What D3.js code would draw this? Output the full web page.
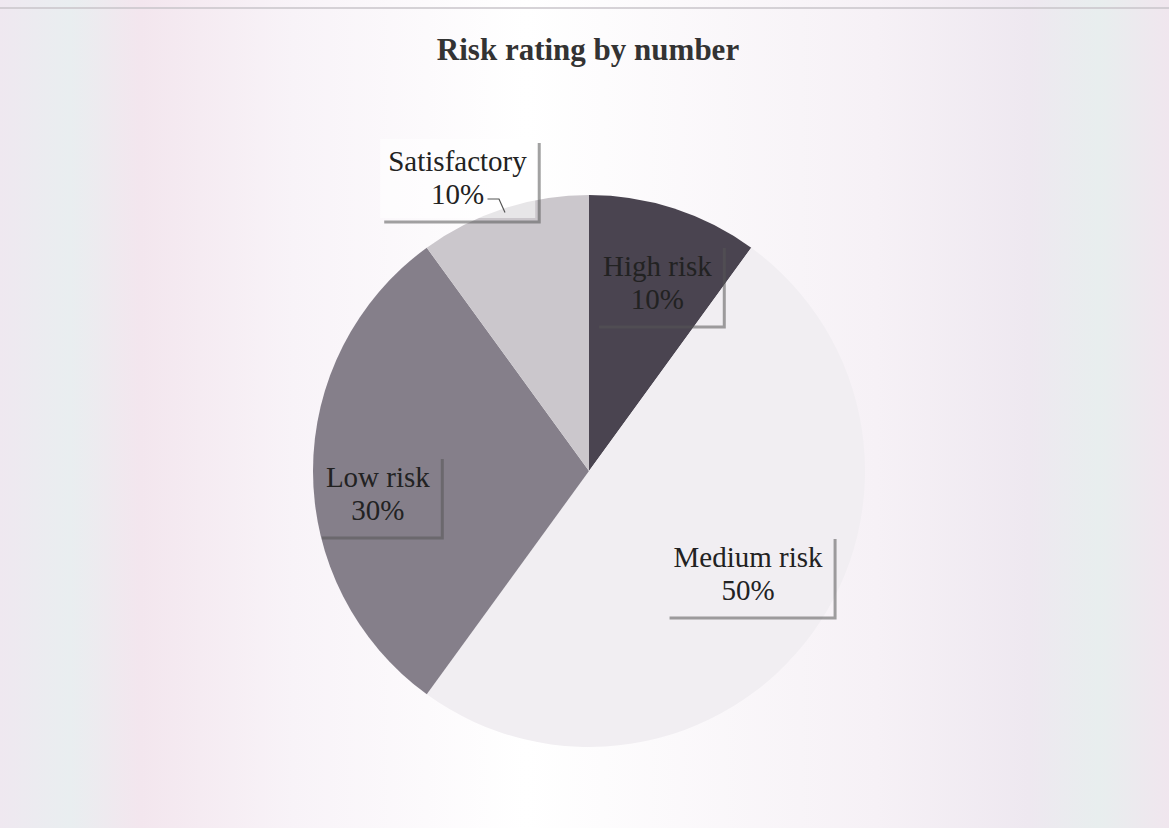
<!DOCTYPE html>
<html><head><meta charset="utf-8">
<script src="https://cdn.jsdelivr.net/npm/d3@7"></script>
<style>body{margin:0;background:#fff}svg{display:block}</style>
</head><body>
<svg id="c" width="1169" height="828"></svg>
<script>
const categories = ["High risk","Medium risk","Low risk","Satisfactory"];
const values = [10,50,30,10];
const colors = ["#4a4450","#f1eef2","#857f8a","#cbc7cc"];

const W = 1169, H = 828;
const svg = d3.select("#c");
const defs = svg.append("defs");
const g0 = defs.append("linearGradient").attr("id","bg").attr("x1","0").attr("x2","1");
[["0","#efe8f0"],["0.06","#e9eef0"],["0.12","#f3e6ee"],["0.25","#f8f3f8"],["0.45","#ffffff"],["0.75","#f6f1f6"],["0.88","#eee8f0"],["0.94","#e8eeee"],["1","#f0e6ee"]].forEach(s=>g0.append("stop").attr("offset",s[0]).attr("stop-color",s[1]));
svg.append("rect").attr("width",W).attr("height",H).attr("fill","url(#bg)");
svg.append("line").attr("x1",0).attr("x2",W).attr("y1",8).attr("y2",8).attr("stroke","#c8c4ca").attr("stroke-width",1.5);

svg.append("text").attr("x",588).attr("y",60).attr("text-anchor","middle")
  .attr("font-family","Liberation Serif").attr("font-weight","bold").attr("font-size",31)
  .attr("fill","#333").text("Risk rating by number");

const cx = 589, cy = 471, R = 276;
const pie = d3.pie().sort(null).value(d=>d)(values);
const arc = d3.arc().innerRadius(0).outerRadius(R);
const g = svg.append("g").attr("transform",`translate(${cx},${cy})`);
g.selectAll("path").data(pie).join("path").attr("d",arc).attr("fill",(d,i)=>colors[i]);

// label placement
const lr = [0.72,0.69,0.765,1.12];
const adj = [[7,0],[5,-10],[0,22],[-36,0]];
const boxes = pie.map((d,i)=>{
  const a = (d.startAngle+d.endAngle)/2;
  const r = R*lr[i];
  const x = r*Math.sin(a)+adj[i][0], y = -r*Math.cos(a)+adj[i][1];
  return {x,y,i,a};
});
boxes.forEach(b=>{
  const lg = g.append("g").attr("transform",`translate(${b.x},${b.y})`);
  const t1 = categories[b.i], t2 = values[b.i]+"%";
  const txt = lg.append("text").attr("text-anchor","middle").attr("font-family","Liberation Serif")
    .attr("font-size",29).attr("fill","#222");
  txt.append("tspan").attr("x",0).attr("y",-6).text(t1);
  txt.append("tspan").attr("x",0).attr("y",27).text(t2);
  const bb = txt.node().getBBox();
  const pad = 8;
  const bx = bb.x-pad, by = bb.y-pad+2, bw = bb.width+2*pad, bh = bb.height+2*pad-2;
  lg.insert("rect","text").attr("x",bx).attr("y",by).attr("width",bw).attr("height",bh)
    .attr("fill", b.i===3 ? "#ffffff" : "none").attr("fill-opacity",0.55);
  lg.insert("rect","text").attr("x",bx+4).attr("y",by+4).attr("width",bw).attr("height",bh)
    .attr("fill","none").attr("stroke","#555").attr("stroke-width",3).attr("stroke-opacity",0.55)
    .attr("stroke-dasharray",`0 ${bw} ${bh+bw} ${bh}`);
  if (b.i===3) {
    const ex = R*Math.sin(b.a)*0.985, ey = -R*Math.cos(b.a)*0.985;
    lg.append("polyline").attr("points",`30,22 ${ex-b.x-6},22 ${ex-b.x},${ey-b.y}`)
      .attr("fill","none").attr("stroke","#555").attr("stroke-width",1.2);
  }
});
</script>
</body></html>
